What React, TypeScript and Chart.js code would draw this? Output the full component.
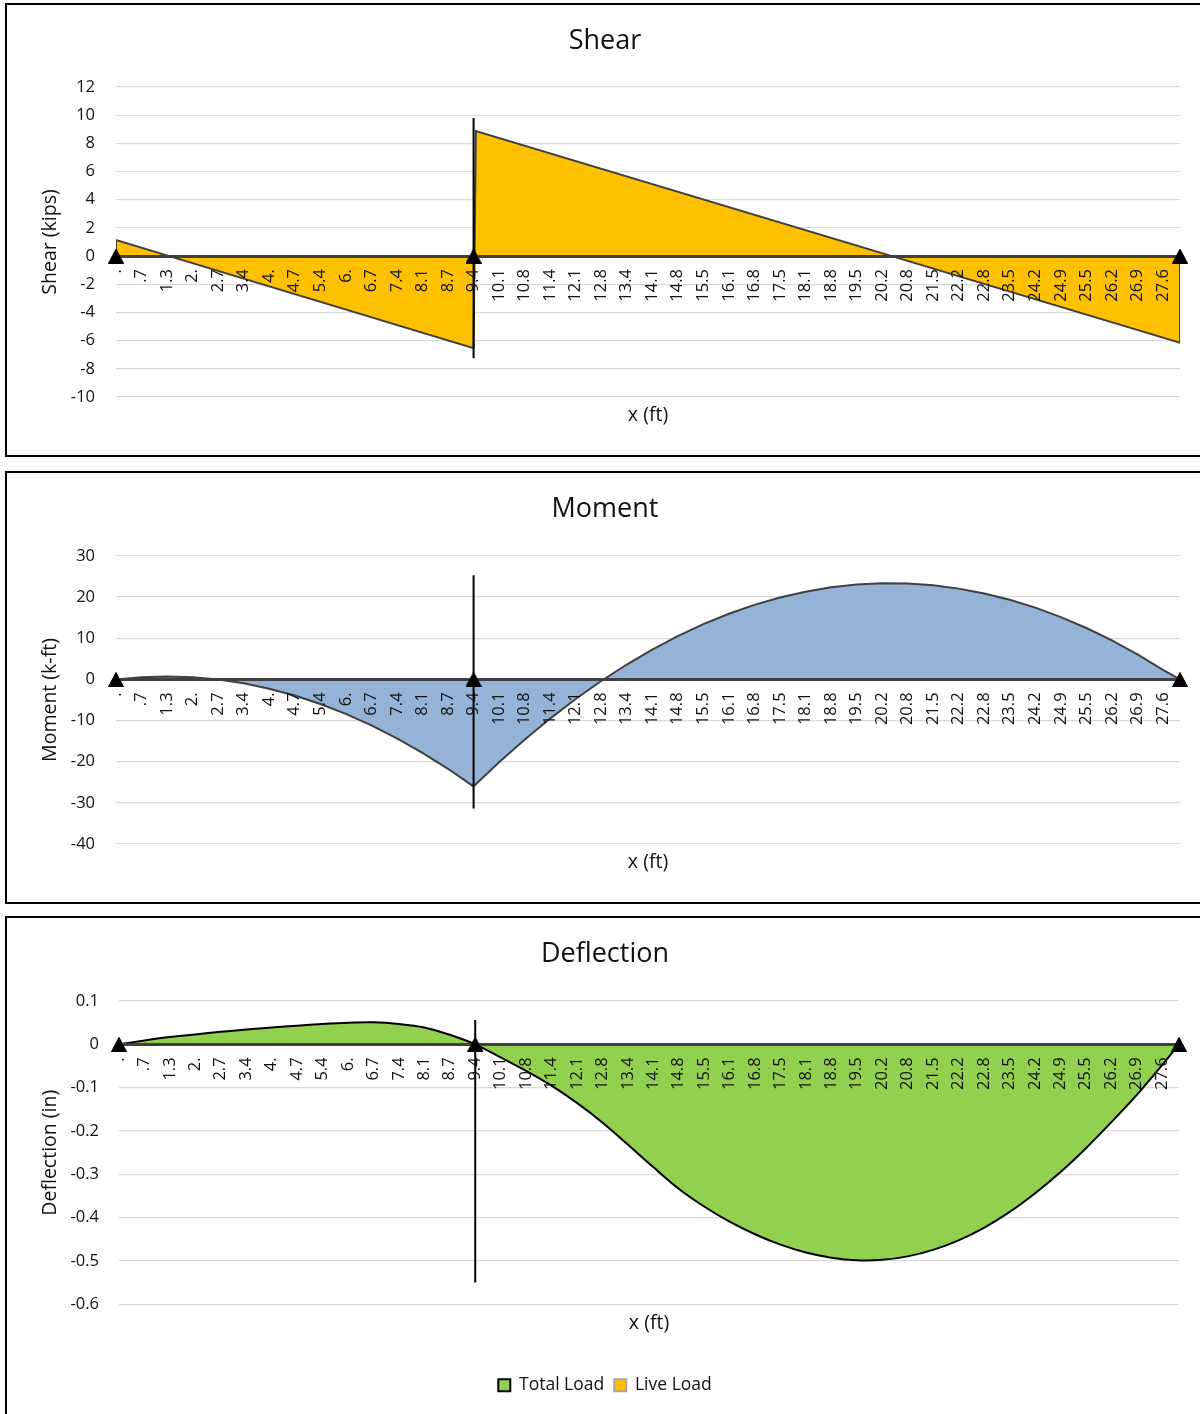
import React, { useEffect, useRef } from 'react';
import { Chart, registerables } from 'chart.js';

Chart.register(...registerables);

const FONT = '"Open Sans", Lato, "DejaVu Sans", sans-serif';
const TEXT = '#111111';

// x positions (ft) of the axis labels, and the labels as printed
const tickValues = [
  0, 0.672, 1.344, 2.016, 2.688, 3.36, 4.032, 4.704, 5.376, 6.048, 6.72, 7.392, 8.064, 8.736,
  9.408, 10.08, 10.752, 11.424, 12.096, 12.768, 13.44, 14.112, 14.784, 15.456, 16.128, 16.8,
  17.472, 18.144, 18.816, 19.488, 20.16, 20.832, 21.504, 22.176, 22.848, 23.52, 24.192, 24.864,
  25.536, 26.208, 26.88, 27.552,
];
const tickLabels = [
  '.', '.7', '1.3', '2.', '2.7', '3.4', '4.', '4.7', '5.4', '6.', '6.7', '7.4', '8.1', '8.7',
  '9.4', '10.1', '10.8', '11.4', '12.1', '12.8', '13.4', '14.1', '14.8', '15.5', '16.1', '16.8',
  '17.5', '18.1', '18.8', '19.5', '20.2', '20.8', '21.5', '22.2', '22.8', '23.5', '24.2', '24.9',
  '25.5', '26.2', '26.9', '27.6',
];
const beamEnd = 28;
const supportX = [0, 9.41, 28];

// Shear (kips)
const shearX = [0, 0, 9.41, 9.47, 28, 28];
const shearV = [0, 1.14, -6.53, 8.87, -6.15, 0];
const shearSupportLine = [9.8, -7.25];

// Moment (k-ft) and deflection (in) sampled at these x (ft)
const curveX = [...tickValues, beamEnd];
const momentM = [
  0, 0.55, 0.73, 0.54, -0.02, -0.95, -2.25, -3.92, -5.96, -8.38, -11.15, -14.31, -17.83, -21.72,
  -25.99, -20.14, -14.64, -9.52, -4.77, -0.39, 3.62, 7.26, 10.53, 13.43, 15.97, 18.13, 19.92,
  21.33, 22.38, 23.06, 23.37, 23.31, 22.87, 22.07, 20.9, 19.35, 17.45, 15.16, 12.5, 9.48, 6.09,
  2.32, 0,
];
const momentSupportLine = [25.3, -31.4];

const deflTotal = [
  0, 0.009, 0.017, 0.023, 0.029, 0.034, 0.039, 0.043, 0.047, 0.05, 0.051, 0.047, 0.039, 0.022,
  0, -0.03, -0.061, -0.095, -0.135, -0.18, -0.231, -0.283, -0.333, -0.374, -0.409, -0.438,
  -0.462, -0.48, -0.492, -0.498, -0.497, -0.489, -0.474, -0.452, -0.423, -0.387, -0.344, -0.295,
  -0.24, -0.18, -0.117, -0.048, 0,
];
const deflLive: number[] = [];
const deflSupportLine = [0.056, -0.549];

type Panel = {
  title: string;
  yTitle: string;
  yMin: number;
  yMax: number;
  yStep: number;
  xs: number[];
  ys: number[];
  tension: number;
  seriesLabel: string;
  fillColor: string;
  lineColor: string;
  supportLine: number[];
  live: boolean;
  top: number;
  height: number;
  yWidth: number;
  yTickPad: number;
  rightWidth: number;
  titlePadBottom: number;
  x2Height: number;
  x2PadBottom: number;
  padBottom: number;
};

const panels: Panel[] = [
  {
    title: 'Shear', yTitle: 'Shear (kips)', yMin: -10, yMax: 12, yStep: 2,
    xs: shearX, ys: shearV, tension: 0, seriesLabel: 'Shear', fillColor: '#FFC000', lineColor: '#404040',
    supportLine: shearSupportLine, live: false,
    top: 5, height: 450, yWidth: 109, yTickPad: 21, rightWidth: 23, titlePadBottom: 29.6,
    x2Height: 58, x2PadBottom: 28, padBottom: 0,
  },
  {
    title: 'Moment', yTitle: 'Moment (k-ft)', yMin: -40, yMax: 30, yStep: 10,
    xs: curveX, ys: momentM, tension: 0, seriesLabel: 'Moment', fillColor: '#95B3D7', lineColor: '#404040',
    supportLine: momentSupportLine, live: false,
    top: 473, height: 429, yWidth: 109, yTickPad: 21, rightWidth: 23, titlePadBottom: 30.6,
    x2Height: 58, x2PadBottom: 28, padBottom: 0,
  },
  {
    title: 'Deflection', yTitle: 'Deflection (in)', yMin: -0.6, yMax: 0.1, yStep: 0.1,
    xs: curveX, ys: deflTotal, tension: 0.3, seriesLabel: 'Total Load', fillColor: '#92D050', lineColor: '#000000',
    supportLine: deflSupportLine, live: true,
    top: 918, height: 496, yWidth: 112, yTickPad: 20, rightWidth: 24, titlePadBottom: 30.6,
    x2Height: 62, x2PadBottom: 31, padBottom: 10,
  },
];

const CANVAS_W = 1196;

function makeTriangle(): HTMLCanvasElement {
  const c = document.createElement('canvas');
  c.width = 16;
  c.height = 15;
  const g = c.getContext('2d')!;
  g.fillStyle = '#000';
  g.beginPath();
  g.moveTo(8, 0);
  g.lineTo(16, 15);
  g.lineTo(0, 15);
  g.closePath();
  g.fill();
  return c;
}

// Re-draw the support markers after the axis line so they sit on top of it
const supportsOnTop = {
  id: 'supportsOnTop',
  afterDraw(chart: any) {
    chart.data.datasets.forEach((ds: any, i: number) => {
      if (ds.label === 'supports') chart.getDatasetMeta(i).controller.draw();
    });
  },
};

function makeConfig(p: Panel, tri: HTMLCanvasElement): any {
  const tickFont = { family: FONT, size: 16.5 };
  const titleFont = { family: FONT, size: 19.5 };
  const datasets: any[] = [
    {
      label: p.seriesLabel,
      data: p.xs.map((x, i) => ({ x, y: p.ys[i] })),
      borderColor: p.lineColor,
      borderWidth: 2,
      backgroundColor: p.fillColor,
      fill: 'origin',
      pointRadius: 0,
      tension: p.tension,
      xAxisID: 'x',
      yAxisID: 'y',
      order: 3,
    },
  ];
  if (p.live) {
    datasets.push({
      label: 'Live Load',
      data: deflLive,
      borderColor: '#A6A6A6',
      borderWidth: 2,
      backgroundColor: '#FFC000',
      fill: 'origin',
      pointRadius: 0,
      xAxisID: 'x',
      yAxisID: 'y',
      order: 4,
    });
  }
  datasets.push({
    label: 'supports',
    data: supportX.map((x) => ({ x, y: 0 })),
    showLine: false,
    pointStyle: tri,
    pointRadius: 8,
    clip: false,
    xAxisID: 'x',
    yAxisID: 'y',
    order: 1,
  });
  datasets.push({
    label: 'support line',
    data: p.supportLine.map((y) => ({ x: supportX[1], y })),
    borderColor: '#000000',
    borderWidth: 2,
    pointRadius: 0,
    xAxisID: 'x',
    yAxisID: 'y',
    order: 2,
  });

  return {
    type: 'line',
    data: { datasets },
    plugins: [supportsOnTop],
    options: {
      animation: false,
      responsive: false,
      events: [],
      layout: { padding: { left: 0, right: 0, top: 0, bottom: p.padBottom } },
      scales: {
        x: {
          type: 'linear',
          min: 0,
          max: beamEnd,
          position: { y: 0 },
          grid: { display: false, drawTicks: false },
          border: { display: true, color: '#404040', width: 3, z: 1 },
          afterBuildTicks: (s: any) => {
            s.ticks = tickValues.map((v) => ({ value: v }));
          },
          ticks: {
            z: 1,
            autoSkip: false,
            maxRotation: 90,
            minRotation: 90,
            padding: 13,
            color: TEXT,
            font: tickFont,
            callback: (_v: any, i: number) => tickLabels[i],
          },
        },
        x2: {
          type: 'linear',
          position: 'bottom',
          min: 0,
          max: 1,
          grid: { display: false, drawTicks: false },
          border: { display: false },
          ticks: { display: false },
          title: {
            display: true,
            text: 'x (ft)',
            color: TEXT,
            font: titleFont,
            padding: { top: 0, bottom: p.x2PadBottom },
          },
          afterFit: (s: any) => {
            s.height = p.x2Height;
          },
        },
        y: {
          type: 'linear',
          position: 'left',
          min: p.yMin,
          max: p.yMax,
          ticks: { stepSize: p.yStep, padding: p.yTickPad, color: TEXT, font: tickFont },
          grid: { color: '#D9D9D9', lineWidth: 1.3, drawTicks: false },
          border: { display: false },
          title: {
            display: true,
            text: p.yTitle,
            color: TEXT,
            font: titleFont,
            padding: { top: 32, bottom: 0 },
          },
          afterFit: (s: any) => {
            s.width = p.yWidth;
          },
        },
        yRight: {
          type: 'linear',
          position: 'right',
          min: 0,
          max: 1,
          grid: { display: false, drawTicks: false },
          border: { display: false },
          ticks: { display: false },
          afterFit: (s: any) => {
            s.width = p.rightWidth;
          },
        },
      },
      plugins: {
        title: {
          display: true,
          text: p.title,
          color: TEXT,
          font: { family: FONT, size: 27, weight: 'normal' },
          padding: { top: 20, bottom: p.titlePadBottom },
        },
        legend: {
          display: p.live,
          position: 'bottom',
          labels: {
            boxWidth: 12,
            boxHeight: 12,
            padding: 10,
            color: TEXT,
            font: { family: FONT, size: 17.5 },
            filter: (item: any) => item.text === 'Total Load' || item.text === 'Live Load',
          },
        },
        tooltip: { enabled: false },
      },
    },
  };
}

const boxes = [
  { top: 3, height: 454 },
  { top: 471, height: 433 },
  { top: 916, height: 520 },
];

export default function App() {
  const refs = [useRef<HTMLCanvasElement>(null), useRef<HTMLCanvasElement>(null), useRef<HTMLCanvasElement>(null)];

  useEffect(() => {
    const tri = makeTriangle();
    const charts = panels.map((p, i) => new Chart(refs[i].current!, makeConfig(p, tri)));
    return () => charts.forEach((c) => c.destroy());
  }, []);

  return (
    <div
      style={{
        position: 'absolute',
        left: 0,
        top: 0,
        width: 1200,
        height: 1414,
        overflow: 'hidden',
        background: '#fff',
      }}
    >
      {boxes.map((b, i) => (
        <div
          key={'b' + i}
          style={{
            position: 'absolute',
            left: 5,
            top: b.top,
            width: 1210,
            height: b.height,
            border: '2px solid #000',
            boxSizing: 'border-box',
          }}
        />
      ))}
      {panels.map((p, i) => (
        <canvas
          key={'c' + i}
          ref={refs[i]}
          width={CANVAS_W}
          height={p.height}
          style={{ position: 'absolute', left: 7, top: p.top, width: CANVAS_W, height: p.height }}
        />
      ))}
    </div>
  );
}
